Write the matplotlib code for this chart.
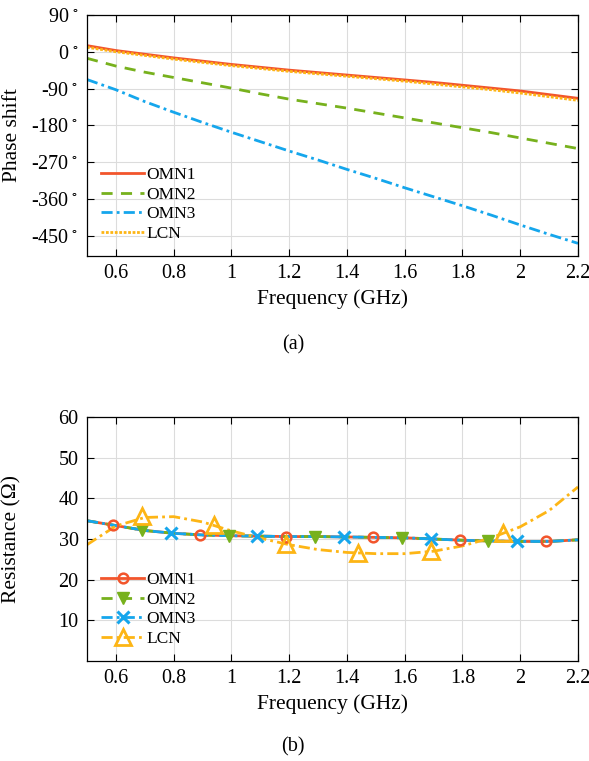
import matplotlib.pyplot as plt
from matplotlib.lines import Line2D

plt.rcParams['font.family'] = ['Liberation Serif', 'DejaVu Serif']
plt.rcParams['mathtext.fontset'] = 'stix'
plt.rcParams['font.size'] = 14.5

c_omn1 = '#F2552C'
c_omn2 = '#77B11D'
c_omn3 = '#15A6EC'
c_lcn = '#FDB515'

# (a) phase shift (deg)
freq = [0.5, 0.6, 0.7, 0.8, 0.9, 1.0, 1.1, 1.2, 1.3, 1.4, 1.5,
        1.6, 1.7, 1.8, 1.9, 2.0, 2.1, 2.2]
ph_omn1 = [15, 3, -6, -15, -23, -31, -38, -45, -51, -57, -63,
           -69, -75, -82, -89, -96, -105, -114]
ph_omn2 = [-16, -35, -50, -63, -76, -89, -103, -116, -127, -138, -150,
           -162, -174, -186, -198, -211, -224, -237]
ph_omn3 = [-68, -93, -122, -148, -173, -197, -220, -243, -265, -288, -310,
           -333, -355, -377, -400, -424, -447, -469]
ph_lcn = [11, 0, -9, -18, -26, -34, -41, -48, -54, -60, -66,
          -72, -79, -86, -93, -101, -110, -119]
phase_ticks = [-450, -360, -270, -180, -90, 0, 90]

# (b) resistance (ohm)
r_omn1 = [34.5, 33.3, 32.1, 31.4, 31.0, 30.8, 30.7, 30.6, 30.6, 30.5, 30.4,
          30.3, 30.0, 29.7, 29.5, 29.4, 29.4, 29.8]
r_omn2 = [34.5, 33.3, 32.1, 31.4, 31.0, 30.8, 30.7, 30.6, 30.6, 30.5, 30.4,
          30.3, 30.0, 29.7, 29.5, 29.4, 29.4, 29.8]
r_omn3 = [34.5, 33.3, 32.1, 31.4, 31.0, 30.8, 30.7, 30.6, 30.6, 30.5, 30.4,
          30.3, 30.0, 29.7, 29.5, 29.4, 29.4, 29.8]
r_lcn = [28.6, 33.2, 35.3, 35.5, 34.2, 32.0, 30.2, 28.6, 27.4, 26.7, 26.4,
         26.4, 27.0, 28.3, 30.3, 33.0, 37.0, 42.8]

# marker positions
mk_omn1_f = [0.59, 0.89, 1.19, 1.49, 1.79, 2.09]
mk_omn1_r = [33.4, 31.0, 30.6, 30.4, 29.7, 29.4]
mk_omn2_f = [0.69, 0.99, 1.29, 1.59, 1.89]
mk_omn2_r = [32.2, 30.8, 30.6, 30.3, 29.5]
mk_omn3_f = [0.79, 1.09, 1.39, 1.69, 1.99]
mk_omn3_r = [31.4, 30.7, 30.5, 30.0, 29.4]
mk_lcn_f = [0.69, 0.94, 1.19, 1.44, 1.69, 1.94]
mk_lcn_r = [35.6, 33.4, 28.8, 26.6, 27.0, 31.5]

xt = [0.6, 0.8, 1, 1.2, 1.4, 1.6, 1.8, 2, 2.2]
xtl = ['0.6', '0.8', '1', '1.2', '1.4', '1.6', '1.8', '2', '2.2']

fig = plt.figure(figsize=(5.89, 7.61), dpi=100)
ax1 = fig.add_axes([0.1477, 0.6636, 0.8336, 0.3167])
ax2 = fig.add_axes([0.1477, 0.1314, 0.8336, 0.3206])

ax1.plot(freq, ph_omn1, color=c_omn1, lw=2, label='OMN1')
ax1.plot(freq, ph_omn2, color=c_omn2, lw=2, ls=(0, (4, 3)), label='OMN2')
ax1.plot(freq, ph_omn3, color=c_omn3, lw=2, ls=(0, (4, 1.5, 1, 1.5)), label='OMN3')
ax1.plot(freq, ph_lcn, color=c_lcn, lw=2, ls=(0, (1, 0.6)), label='LCN')
ax1.set_xlim(0.5, 2.2)
ax1.set_ylim(-500, 90)
ax1.set_yticks(phase_ticks)
ax1.set_yticklabels([f'{v}$^{{\\,\\circ}}$' for v in phase_ticks])
ax1.set_xticks(xt)
ax1.set_xticklabels(xtl)
ax1.set_xlabel('Frequency (GHz)', fontsize=15.5)
ax1.set_ylabel('Phase shift', fontsize=15.5)
ax1.legend(loc='lower left', frameon=False, handlelength=2.5, handletextpad=0.1,
           labelspacing=0.2, borderaxespad=0.4, fontsize=12.5)

ax2.plot(freq, r_omn1, color=c_omn1, lw=2)
ax2.plot(freq, r_omn2, color=c_omn2, lw=2, ls=(0, (4, 3)))
ax2.plot(freq, r_omn3, color=c_omn3, lw=2, ls=(0, (4, 1.5, 1, 1.5)))
ax2.plot(freq, r_lcn, color=c_lcn, lw=2, ls=(0, (4, 1.5, 1, 1.5)))
ax2.plot(mk_omn1_f, mk_omn1_r, ls='none', marker='o', ms=7, mfc='none',
         mec=c_omn1, mew=1.8)
ax2.plot(mk_omn2_f, mk_omn2_r, ls='none', marker='v', ms=8, color=c_omn2)
ax2.plot(mk_omn3_f, mk_omn3_r, ls='none', marker='x', ms=8, mew=2.2, color=c_omn3)
ax2.plot(mk_lcn_f, mk_lcn_r, ls='none', marker='^', ms=12, mfc='none',
         mec=c_lcn, mew=2)
handles = [
    Line2D([], [], color=c_omn1, lw=2, marker='o', ms=7, mfc='none', mew=1.8),
    Line2D([], [], color=c_omn2, lw=2, ls=(0, (4, 3)), marker='v', ms=8),
    Line2D([], [], color=c_omn3, lw=2, ls=(0, (4, 1.5, 1, 1.5)), marker='x', ms=8, mew=2.2),
    Line2D([], [], color=c_lcn, lw=2, ls=(0, (4, 1.5, 1, 1.5)), marker='^', ms=12,
           mfc='none', mew=2),
]
ax2.legend(handles, ['OMN1', 'OMN2', 'OMN3', 'LCN'], loc='lower left',
           frameon=False, handlelength=2.5, handletextpad=0.1,
           labelspacing=0.2, borderaxespad=0.4, fontsize=12.5)
ax2.set_xlim(0.5, 2.2)
ax2.set_ylim(0, 60)
ax2.set_yticks([10, 20, 30, 40, 50, 60])
ax2.set_xticks(xt)
ax2.set_xticklabels(xtl)
ax2.set_xlabel('Frequency (GHz)', fontsize=15.5)
ax2.set_ylabel('Resistance (Ω)', fontsize=15.5)

for ax in (ax1, ax2):
    ax.grid(True, color='#dcdcdc', lw=0.8)
    ax.set_axisbelow(True)
    ax.tick_params(direction='in', top=True, right=True, length=5, pad=6)
    ax.yaxis.set_label_coords(-0.133, 0.5)
    for s in ax.spines.values():
        s.set_linewidth(0.9)

fig.text(0.4975, 0.5466, '(a)', ha='center', va='center', fontsize=14.5)
fig.text(0.4975, 0.0184, '(b)', ha='center', va='center', fontsize=14.5)

fig.savefig('out.png', dpi=100)
